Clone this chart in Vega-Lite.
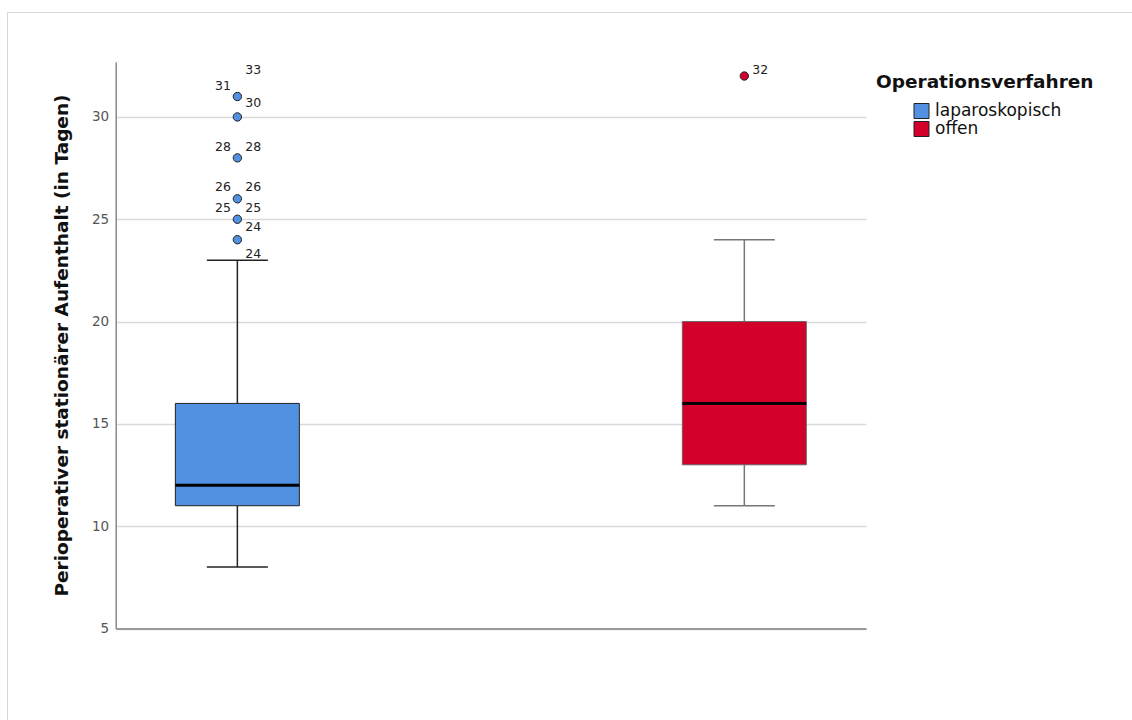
{
  "$schema": "https://vega.github.io/schema/vega-lite/v6.json",
  "width": 1130,
  "height": 712,
  "autosize": "none",
  "padding": {"left": 7, "top": 12, "right": 0, "bottom": 0},
  "background": "white",
  "config": {
    "font": "DejaVu Sans",
    "view": {"stroke": "#d6d6d6", "strokeWidth": 1}
  },
  "datasets": {
    "boxen": [
      {"Verfahren": "laparoskopisch", "Minimum": 8, "Q1": 11, "Median": 12, "Q3": 16, "Maximum": 23},
      {"Verfahren": "offen", "Minimum": 11, "Q1": 13, "Median": 16, "Q3": 20, "Maximum": 24}
    ],
    "ausreisser": [
      {"Verfahren": "laparoskopisch", "Tage": 24},
      {"Verfahren": "laparoskopisch", "Tage": 25},
      {"Verfahren": "laparoskopisch", "Tage": 26},
      {"Verfahren": "laparoskopisch", "Tage": 28},
      {"Verfahren": "laparoskopisch", "Tage": 30},
      {"Verfahren": "laparoskopisch", "Tage": 31},
      {"Verfahren": "offen", "Tage": 32}
    ],
    "fallnummern": [
      {"Verfahren": "laparoskopisch", "Fall": "33", "Lage": 32.3, "Seite": "rechts"},
      {"Verfahren": "laparoskopisch", "Fall": "31", "Lage": 31.51, "Seite": "links"},
      {"Verfahren": "laparoskopisch", "Fall": "30", "Lage": 30.68, "Seite": "rechts"},
      {"Verfahren": "laparoskopisch", "Fall": "28", "Lage": 28.53, "Seite": "links"},
      {"Verfahren": "laparoskopisch", "Fall": "28", "Lage": 28.53, "Seite": "rechts"},
      {"Verfahren": "laparoskopisch", "Fall": "26", "Lage": 26.58, "Seite": "links"},
      {"Verfahren": "laparoskopisch", "Fall": "26", "Lage": 26.58, "Seite": "rechts"},
      {"Verfahren": "laparoskopisch", "Fall": "25", "Lage": 25.55, "Seite": "links"},
      {"Verfahren": "laparoskopisch", "Fall": "25", "Lage": 25.55, "Seite": "rechts"},
      {"Verfahren": "laparoskopisch", "Fall": "24", "Lage": 24.62, "Seite": "rechts"},
      {"Verfahren": "laparoskopisch", "Fall": "24", "Lage": 23.3, "Seite": "rechts"},
      {"Verfahren": "offen", "Fall": "32", "Lage": 32.3, "Seite": "rechts"}
    ]
  },
  "encoding": {
    "x": {
      "field": "Verfahren",
      "type": "nominal",
      "scale": {
        "type": "band",
        "domain": ["laparoskopisch", "offen"],
        "range": [108.7, 859],
        "paddingInner": 0.6,
        "paddingOuter": 0.04
      },
      "axis": {
        "labels": false,
        "ticks": false,
        "title": null,
        "grid": false,
        "domainColor": "#9a9a9a",
        "domainWidth": 2,
        "offset": -95.5
      }
    }
  },
  "layer": [
    {
      "data": {"name": "boxen"},
      "mark": {"type": "rule", "strokeWidth": 1.5},
      "encoding": {
        "y": {
          "field": "Minimum",
          "type": "quantitative",
          "scale": {"domain": [5, 32.7], "range": [616.5, 49.7], "nice": false, "zero": false},
          "axis": {
            "title": "Perioperativer stationärer Aufenthalt (in Tagen)",
            "values": [5, 10, 15, 20, 25, 30],
            "offset": -108.7,
            "ticks": false,
            "labelPadding": 7,
            "labelFontSize": 13.5,
            "labelColor": "#555555",
            "domainColor": "#8a8a8a",
            "domainWidth": 1.5,
            "grid": true,
            "gridColor": "#d9d9d9",
            "gridWidth": 1.5,
            "titleFontSize": 18.5,
            "titleFontWeight": "bold",
            "titleColor": "#111111",
            "titleX": -44,
            "titleY": 333,
            "titleBaseline": "bottom"
          }
        },
        "y2": {"field": "Q1"},
        "stroke": {"condition": {"test": "datum.Verfahren === 'offen'", "value": "#777777"}, "value": "#222222"}
      }
    },
    {
      "data": {"name": "boxen"},
      "mark": {"type": "rule", "strokeWidth": 1.5},
      "encoding": {
        "y": {
          "field": "Q3",
          "type": "quantitative",
          "scale": {"domain": [5, 32.7], "range": [616.5, 49.7], "nice": false, "zero": false}
        },
        "y2": {"field": "Maximum"},
        "stroke": {"condition": {"test": "datum.Verfahren === 'offen'", "value": "#777777"}, "value": "#222222"}
      }
    },
    {
      "data": {"name": "boxen"},
      "mark": {"type": "tick", "size": 61, "thickness": 1.5, "orient": "horizontal", "opacity": 1},
      "encoding": {
        "y": {
          "field": "Minimum",
          "type": "quantitative",
          "scale": {"domain": [5, 32.7], "range": [616.5, 49.7], "nice": false, "zero": false}
        },
        "fill": {"condition": {"test": "datum.Verfahren === 'offen'", "value": "#777777"}, "value": "#222222"}
      }
    },
    {
      "data": {"name": "boxen"},
      "mark": {"type": "tick", "size": 61, "thickness": 1.5, "orient": "horizontal", "opacity": 1},
      "encoding": {
        "y": {
          "field": "Maximum",
          "type": "quantitative",
          "scale": {"domain": [5, 32.7], "range": [616.5, 49.7], "nice": false, "zero": false}
        },
        "fill": {"condition": {"test": "datum.Verfahren === 'offen'", "value": "#777777"}, "value": "#222222"}
      }
    },
    {
      "data": {"name": "boxen"},
      "mark": {"type": "bar", "size": 124, "strokeWidth": 1},
      "encoding": {
        "y": {
          "field": "Q1",
          "type": "quantitative",
          "scale": {"domain": [5, 32.7], "range": [616.5, 49.7], "nice": false, "zero": false}
        },
        "y2": {"field": "Q3"},
        "color": {
          "field": "Verfahren",
          "type": "nominal",
          "scale": {"domain": ["laparoskopisch", "offen"], "range": ["#5291e2", "#d2002b"]},
          "legend": {
            "orient": "none",
            "legendX": 869,
            "legendY": 61,
            "padding": 0,
            "title": "Operationsverfahren",
            "titleFontSize": 18.5,
            "titleFontWeight": "bold",
            "titleColor": "#111111",
            "titleLimit": 400,
            "titlePadding": 11,
            "symbolType": "square",
            "symbolSize": 225,
            "symbolStrokeColor": "#444444",
            "symbolStrokeWidth": 1,
            "symbolOpacity": 1,
            "symbolOffset": 37,
            "labelFontSize": 17,
            "labelColor": "#111111",
            "labelOffset": 5,
            "labelLimit": 300,
            "rowPadding": -2.5
          }
        },
        "stroke": {"condition": {"test": "datum.Verfahren === 'offen'", "value": "#666666"}, "value": "#222222"}
      }
    },
    {
      "data": {"name": "boxen"},
      "mark": {"type": "tick", "size": 124, "thickness": 3, "orient": "horizontal", "color": "#000000", "opacity": 1},
      "encoding": {
        "y": {
          "field": "Median",
          "type": "quantitative",
          "scale": {"domain": [5, 32.7], "range": [616.5, 49.7], "nice": false, "zero": false}
        }
      }
    },
    {
      "data": {"name": "ausreisser"},
      "mark": {"type": "point", "shape": "circle", "filled": true, "size": 70, "stroke": "#222222", "strokeWidth": 1, "opacity": 1},
      "encoding": {
        "y": {
          "field": "Tage",
          "type": "quantitative",
          "scale": {"domain": [5, 32.7], "range": [616.5, 49.7], "nice": false, "zero": false}
        },
        "color": {
          "field": "Verfahren",
          "type": "nominal",
          "scale": {"domain": ["laparoskopisch", "offen"], "range": ["#5291e2", "#d2002b"]}
        }
      }
    },
    {
      "data": {"name": "fallnummern"},
      "transform": [{"filter": "datum.Seite === 'links'"}],
      "mark": {"type": "text", "align": "right", "baseline": "middle", "dx": -6.5, "fontSize": 12.5, "color": "#222222"},
      "encoding": {
        "y": {
          "field": "Lage",
          "type": "quantitative",
          "scale": {"domain": [5, 32.7], "range": [616.5, 49.7], "nice": false, "zero": false}
        },
        "text": {"field": "Fall", "type": "nominal"}
      }
    },
    {
      "data": {"name": "fallnummern"},
      "transform": [{"filter": "datum.Seite === 'rechts'"}],
      "mark": {"type": "text", "align": "left", "baseline": "middle", "dx": 8, "fontSize": 12.5, "color": "#222222"},
      "encoding": {
        "y": {
          "field": "Lage",
          "type": "quantitative",
          "scale": {"domain": [5, 32.7], "range": [616.5, 49.7], "nice": false, "zero": false}
        },
        "text": {"field": "Fall", "type": "nominal"}
      }
    }
  ]
}
